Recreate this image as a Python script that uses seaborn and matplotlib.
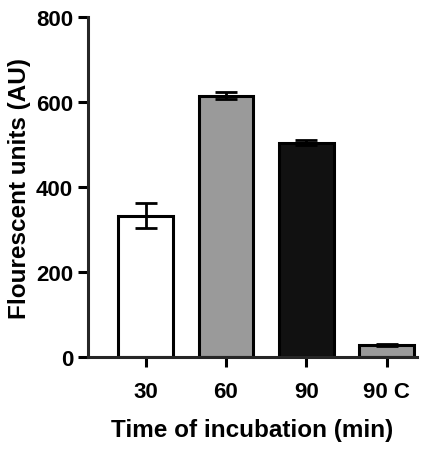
import matplotlib
matplotlib.use("Agg")
import matplotlib.pyplot as plt
import seaborn as sns
import pandas as pd

categories = ["30", "60", "90", "90 C"]
values = [333, 615, 505, 28]
errors = [30, 8, 5, 3]
colors = ["#ffffff", "#9a9a9a", "#111111", "#9a9a9a"]

sns.set_style("ticks")
plt.rcParams['font.family'] = ['Liberation Sans', 'DejaVu Sans']
plt.rcParams['text.color'] = 'black'
plt.rcParams['axes.labelcolor'] = 'black'
plt.rcParams['xtick.color'] = 'black'
plt.rcParams['ytick.color'] = 'black'
fig = plt.figure(figsize=(4.39, 4.56), dpi=100)
ax = fig.add_axes([0.2, 0.215, 0.75, 0.745])
df = pd.DataFrame({"t": categories, "v": values})
sns.barplot(data=df, x="t", y="v", hue="t", palette=colors, legend=False,
            width=0.68, edgecolor="black", linewidth=2.2, ax=ax, errorbar=None)
ax.errorbar(range(len(categories)), values, yerr=errors, fmt="none",
            ecolor="black", elinewidth=2, capsize=8, capthick=2, zorder=5)
ax.set_xlim(-0.72, 3.38)
ax.set_ylim(0, 800)
ax.set_yticks([0, 200, 400, 600, 800])
for s in ["top", "right"]:
    ax.spines[s].set_visible(False)
for s in ["left", "bottom"]:
    ax.spines[s].set_linewidth(2.2)
ax.tick_params(width=2.2, length=7, labelsize=16, colors="black")
ax.tick_params(axis="x", pad=10)
for l in ax.get_xticklabels() + ax.get_yticklabels():
    l.set_fontweight("bold")
ax.set_xlabel("Time of incubation (min)", fontsize=17.5, fontweight="bold", labelpad=12)
ax.set_ylabel("Flourescent units (AU)", fontsize=17.5, fontweight="bold")
fig.savefig("out.png", dpi=100)
